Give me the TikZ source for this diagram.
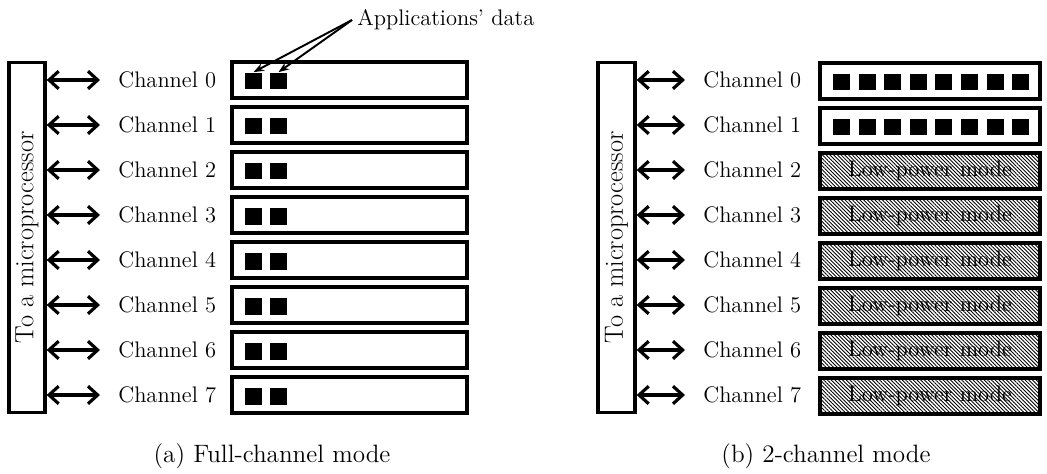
\documentclass[tikz,border=0pt]{standalone}
\usetikzlibrary{arrows.meta,positioning,patterns.meta}

\begin{document}
\begin{tikzpicture}[x=0.02cm, y=-0.02cm,
    cpu/.style={rectangle, draw, line width=1.9pt, minimum width=0.72cm, minimum height=7cm, inner sep=0pt},
    cputext/.style={rotate=90, font=\fontsize{15}{18}\selectfont},
    chlabel/.style={anchor=west, inner sep=0pt, font=\fontsize{12.8}{15}\selectfont},
    chbox/.style={rectangle, draw, line width=1.9pt, minimum height=0.72cm, inner sep=0pt},
    datasq/.style={rectangle, fill=black, minimum size=0.34cm, inner sep=0pt},
    lowpower/.style={chbox, pattern={Lines[angle=-45, distance=1.5pt, line width=0.5pt]}, font=\fontsize{12.8}{15}\selectfont},
    link/.style={{Straight Barb[length=5.5pt,width=10pt]}-{Straight Barb[length=5.5pt,width=10pt]}, line width=1.8pt, shorten >=0.36cm},
    pointer/.style={-{Stealth[length=6pt,width=4.5pt]}, line width=1.1pt},
    caption/.style={font=\fontsize{14.3}{17}\selectfont}
]
\useasboundingbox (0,0) rectangle (1047,473);

% (a) full-channel mode
\node[cpu] (cpuA) at (27,237.5) {};
\node[cputext] (cpuAtext) at (cpuA) {To a microprocessor};
\foreach \i in {0,...,7}{
  \node[chlabel] (chA\i) at (118,80+45*\i) {Channel \i};
  \node[chbox, minimum width=4.7cm] (boxA\i) at (349.5,80+45*\i) {};
  \node[datasq] (sqA\i-1) at (253.5,81+45*\i) {};
  \node[datasq] (sqA\i-2) at (278.5,81+45*\i) {};
  \draw[link] (cpuA.east |- chA\i) -- (chA\i.west);
}
\node[chlabel] (appl) at (357,20) {Applications' data};
\draw[pointer] ([xshift=-0.1cm]appl.west) -- (sqA0-1.north);
\draw[pointer] ([xshift=-0.1cm]appl.west) -- (sqA0-2.north);
\node[caption] (capA) at (272,456) {(a) Full-channel mode};

% (b) 2-channel mode
\node[cpu, minimum width=0.74cm] (cpuB) at (616.5,237.5) {};
\node[cputext] (cpuBtext) at (cpuB) {To a microprocessor};
\foreach \i in {0,...,7}{
  \node[chlabel] (chB\i) at (703,80+45*\i) {Channel \i};
  \draw[link] (cpuB.east |- chB\i) -- (chB\i.west);
}
\foreach \i in {0,1}{
  \node[chbox, minimum width=4.4cm] (boxB\i) at (930,81+45*\i) {};
  \foreach \k in {0,...,7}
    \node[datasq] (sqB\i-\k) at (841.5+25.6*\k,82+45*\i) {};
}
\foreach \i in {2,...,7}
  \node[lowpower, minimum width=4.4cm] (boxB\i) at (930,81+45*\i) {Low-power mode};
\node[caption] (capB) at (826,456) {(b) 2-channel mode};
\end{tikzpicture}
\end{document}
